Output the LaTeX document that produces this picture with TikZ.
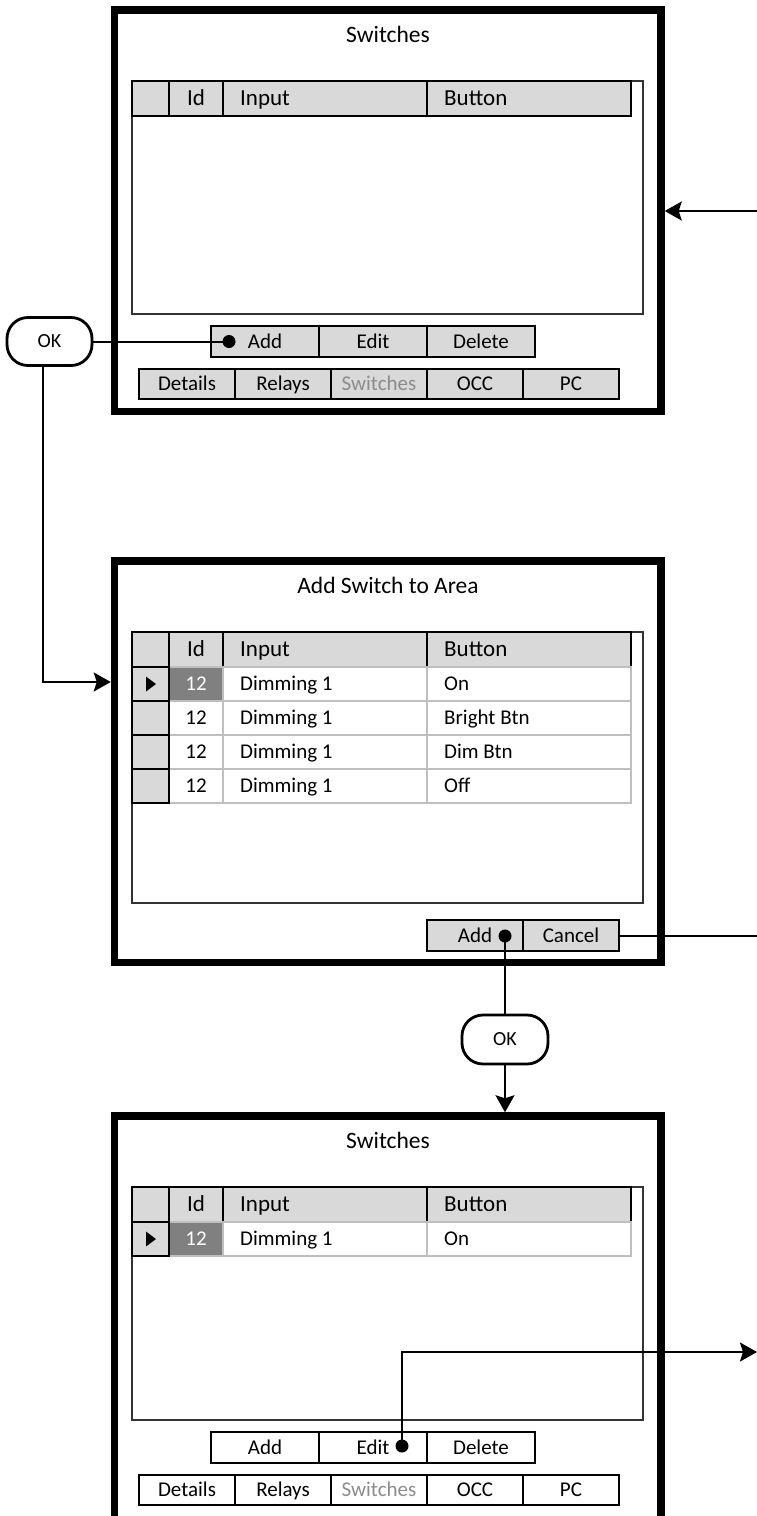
\documentclass[tikz,border=0pt]{standalone}
\usepackage{fontspec}
\setmainfont{Carlito}
\usetikzlibrary{arrows.meta}
\definecolor{cellgray}{HTML}{D9D9D9}
\definecolor{selgray}{HTML}{808080}
\definecolor{linegray}{HTML}{BFBFBF}
\definecolor{tabtext}{HTML}{8C8C8C}
\tikzset{
  panel/.style={draw=black, line width=7.5pt, fill=white, inner sep=0pt, minimum width=546.5pt},
  ttl/.style={font=\fontsize{23.5}{28}\selectfont, inner sep=0pt, text height=15pt, text depth=0pt},
  hdr/.style={font=\fontsize{23}{28}\selectfont, inner sep=0pt, text height=14.7pt, text depth=0pt},
  dat/.style={font=\fontsize{21}{25}\selectfont, inner sep=0pt, text height=13.4pt, text depth=0pt},
  btn/.style={draw=black, line width=1.6pt, font=\fontsize{21}{25}\selectfont, inner sep=0pt, text height=13.4pt, text depth=0pt, outer sep=0pt},
  okbox/.style={draw=black, line width=2.8pt, rounded corners=21pt, fill=white, minimum width=85pt, minimum height=48pt, font=\fontsize{20}{24}\selectfont, inner sep=0pt, text height=12.8pt, text depth=0pt},
  dotnode/.style={circle, fill=black, inner sep=0pt, minimum size=13pt},
  conn/.style={draw=black, line width=2pt},
  arr/.style={-{Stealth[length=17pt,width=19pt,inset=3pt]}},
  tline/.style={draw=black, line width=1.8pt},
  gline/.style={draw=linegray, line width=1.8pt},
  tbox/.style={draw=black!80, line width=1.8pt, fill=white},
}
% header row: #1 prefix, #2 top y
\newcommand\hdrrow[2]{%
  \fill[cellgray] (132,#2) rectangle (631,#2+35);
  \draw[tline] (132,#2) rectangle (631,#2+35);
  \draw[tline] (169,#2) -- (169,#2+35) (223,#2) -- (223,#2+35) (427,#2) -- (427,#2+35);
  \node[hdr] (#1-hid) at (196,#2+17.5) {Id};
  \node[hdr, anchor=west] (#1-hin) at (240,#2+17.5) {Input};
  \node[hdr, anchor=west] (#1-hbt) at (444,#2+17.5) {Button};
}
% data row: #1 prefix, #2 top y, #3 selected (1/0), #4 button text
\newcommand\datrow[4]{%
  \fill[white] (169,#2) rectangle (631,#2+34);
  \ifnum#3=1 \fill[selgray] (169,#2) rectangle (223,#2+34);\fi
  \draw[gline] (169,#2) rectangle (631,#2+34);
  \draw[gline] (223,#2) -- (223,#2+34) (427,#2) -- (427,#2+34);
  \fill[cellgray] (132,#2) rectangle (169,#2+34);
  \draw[tline] (132,#2) rectangle (169,#2+34);
  \ifnum#3=1
    \fill[black] (146,#2+9.5) -- (146,#2+24.5) -- (156,#2+17) -- cycle;
    \node[dat, text=white] (#1-id) at (196,#2+17) {12};
  \else
    \node[dat] (#1-id) at (196,#2+17) {12};
  \fi
  \node[dat, anchor=west] (#1-in) at (240,#2+17) {Dimming 1};
  \node[dat, anchor=west] (#1-bt) at (444,#2+17) {#4};
}
\begin{document}
\begin{tikzpicture}[x=1pt, y=-1pt]
\useasboundingbox (0,0) rectangle (757,1516);
\clip (0,0) rectangle (757,1516);

% ---------- panel 1 ----------
\node[panel, minimum height=401.5pt] (p1) at (387.75,210.75) {};
\node[ttl] (t1) at (388,34.5) {Switches};
\draw[tbox] (132,81) rectangle (643,314);
\hdrrow{a}{81}
\node[btn, fill=cellgray, minimum width=108pt, minimum height=31pt] (a-add) at (265,341.5) {Add};
\node[btn, fill=cellgray, minimum width=108pt, minimum height=31pt] (a-edit) at (373,341.5) {Edit};
\node[btn, fill=cellgray, minimum width=108pt, minimum height=31pt] (a-del) at (481,341.5) {Delete};
\node[btn, fill=cellgray, minimum width=96pt, minimum height=30pt] (a-t1) at (187,384) {Details};
\node[btn, fill=cellgray, minimum width=96pt, minimum height=30pt] (a-t2) at (283,384) {Relays};
\node[btn, fill=cellgray, minimum width=96pt, minimum height=30pt, text=tabtext] (a-t3) at (379,384) {Switches};
\node[btn, fill=cellgray, minimum width=96pt, minimum height=30pt] (a-t4) at (475,384) {OCC};
\node[btn, fill=cellgray, minimum width=96pt, minimum height=30pt] (a-t5) at (571,384) {PC};
\node[dotnode] (d1) at (229,341.5) {};

% ---------- panel 2 ----------
\node[panel, minimum height=401.5pt] (p2) at (387.75,761.75) {};
\node[ttl] (t2) at (388,585.5) {Add Switch to Area};
\draw[tbox] (132,632) rectangle (643,903);
\hdrrow{b}{632}
\datrow{b1}{667}{1}{On}
\datrow{b2}{701}{0}{Bright Btn}
\datrow{b3}{735}{0}{Dim Btn}
\datrow{b4}{769}{0}{Off}
\node[btn, fill=cellgray, minimum width=96pt, minimum height=31pt] (b-add) at (475,935.5) {Add};
\node[btn, fill=cellgray, minimum width=96pt, minimum height=31pt] (b-cancel) at (571,935.5) {Cancel};
\node[dotnode] (d2) at (505,936) {};

% ---------- panel 3 ----------
\node[panel, minimum height=404pt] (p3) at (387.75,1318) {};
\node[ttl] (t3) at (388,1140.5) {Switches};
\draw[tbox] (132,1187) rectangle (643,1420);
\hdrrow{c}{1187}
\datrow{c1}{1222}{1}{On}
\node[btn, fill=white, minimum width=108pt, minimum height=31pt] (c-add) at (265,1447.5) {Add};
\node[btn, fill=white, minimum width=108pt, minimum height=31pt] (c-edit) at (373,1447.5) {Edit};
\node[btn, fill=white, minimum width=108pt, minimum height=31pt] (c-del) at (481,1447.5) {Delete};
\node[btn, fill=white, minimum width=96pt, minimum height=30pt] (c-t1) at (187,1490) {Details};
\node[btn, fill=white, minimum width=96pt, minimum height=30pt] (c-t2) at (283,1490) {Relays};
\node[btn, fill=white, minimum width=96pt, minimum height=30pt, text=tabtext] (c-t3) at (379,1490) {Switches};
\node[btn, fill=white, minimum width=96pt, minimum height=30pt] (c-t4) at (475,1490) {OCC};
\node[btn, fill=white, minimum width=96pt, minimum height=30pt] (c-t5) at (571,1490) {PC};
\node[dotnode] (d3) at (402,1446) {};

% ---------- OK boxes ----------
\node[okbox] (ok1) at (49.5,341.5) {OK};
\node[okbox, minimum width=86pt, minimum height=49pt] (ok2) at (505,1039.5) {OK};

% ---------- connectors ----------
\coordinate (inR) at (757,211);
\draw[conn, arr] (inR) -- (p1.east |- inR);
\draw[conn] (ok1.east) -- (d1.center);
\coordinate (k1) at (43,682);
\draw[conn, arr] (ok1.south -| k1) -- (k1) -- (p2.west |- k1);
\coordinate (outC) at (757,935.5);
\draw[conn] (b-cancel.east) -- (outC);
\draw[conn] (d2.center) -- (ok2.north);
\draw[conn, arr] (ok2.south) -- (p3.north -| ok2.south);
\coordinate (e1) at (402,1352);
\coordinate (outE) at (757,1352);
\draw[conn, arr] (d3.center) -- (e1) -- (outE);
\end{tikzpicture}
\end{document}
